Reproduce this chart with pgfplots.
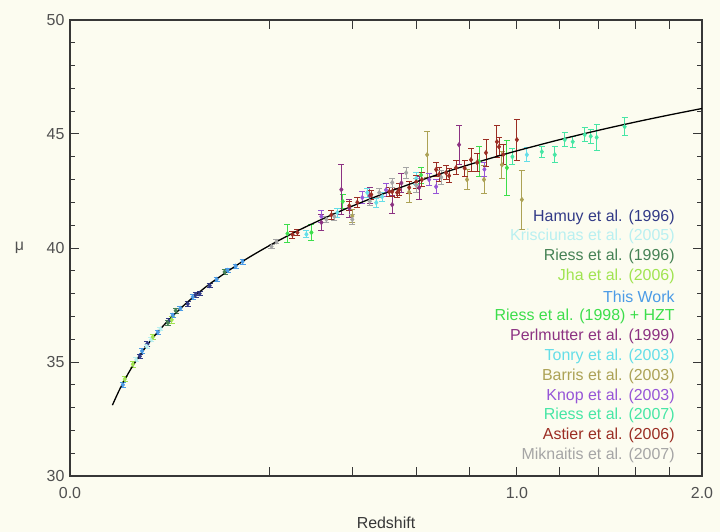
\documentclass[border=0pt]{standalone}
\usepackage{pgfplots}
\pgfplotsset{compat=1.18}
\usetikzlibrary{backgrounds}
\usepackage{fontspec}
\setmainfont{Liberation Sans}
\definecolor{bgc}{RGB}{252,252,240}
\definecolor{axc}{RGB}{55,55,55}
\definecolor{tickc}{RGB}{80,80,80}
\definecolor{hamuy}{RGB}{50,58,135}
\definecolor{kris}{RGB}{185,240,240}
\definecolor{riessA}{RGB}{70,130,85}
\definecolor{jha}{RGB}{160,228,80}
\definecolor{thiswork}{RGB}{75,155,230}
\definecolor{hzt}{RGB}{60,222,75}
\definecolor{perl}{RGB}{140,50,130}
\definecolor{tonry}{RGB}{100,222,232}
\definecolor{barris}{RGB}{172,162,85}
\definecolor{knop}{RGB}{150,85,215}
\definecolor{riessB}{RGB}{70,230,165}
\definecolor{astier}{RGB}{155,45,35}
\definecolor{mik}{RGB}{165,165,165}
\pgfplotsset{
  sn/.style={only marks, color=#1, mark=diamond*, mark size=2.4bp,
    mark options={fill=#1, draw=#1},
    error bars/y dir=both, error bars/y explicit,
    error bars/error bar style={color=#1, line width=0.9pt},
    error bars/error mark options={rotate=90, color=#1, mark size=3bp, line width=0.9pt}}
}
\tikzset{lg/.style={anchor=east, font=\fontsize{16}{19}\selectfont, text=#1, inner sep=0pt}}
\begin{document}
\begin{tikzpicture}
\begin{axis}[
  scale only axis, width=632bp, height=456bp,
  xmin=0, xmax=1.41421, ymin=30, ymax=50,
  xtick={0,0.44721,0.63246,0.77460,0.89443,1,1.09545,1.18322,1.26491,1.34164,1.41421},
  xticklabels={\mbox{0.0},,,,,\mbox{1.0},,,,,\mbox{2.0}},
  ytick={30,35,40,45,50},
  yticklabel={\mbox{\pgfmathprintnumber[assume math mode=true]{\tick}}},
  minor y tick num=4,
  tick align=inside,
  major tick length=9pt, minor tick length=5pt,
  axis line style={draw=axc, line width=1.2pt},
  tick style={color=axc, line width=1pt},
  tick label style={font=\fontsize{16}{19}\selectfont, text=tickc},
  xticklabel style={yshift=-8bp},
  yticklabel style={xshift=-2bp},
  xlabel={Redshift},
  xlabel style={font=\fontsize{16}{19}\selectfont, text=axc, yshift=-11bp},
  ylabel={μ},
  ylabel style={at={(rel axis cs:-0.08,0.5)}, rotate=-90, anchor=center, font=\fontsize{16}{19}\selectfont, text=tickc},
]
% Hamuy et al. (1996)
\addplot[sn=hamuy] table[x expr={sqrt(\thisrow{z})}, y=mu, y error=e] {
z mu e
0.0244 35.25 0.10
0.0300 35.80 0.10
0.0490 36.80 0.10
0.0694 37.55 0.10
0.0790 37.95 0.10
0.0842 38.00 0.10
0.0977 38.35 0.10
};
% Krisciunas et al. (2005)
\addplot[sn=kris] table[x expr={sqrt(\thisrow{z})}, y=mu, y error=e] {
z mu e
0.0220 35.10 0.08
0.0295 35.68 0.08
0.0330 35.98 0.08
0.0410 36.45 0.08
};
% Riess et al. (1996)
\addplot[sn=riessA] table[x expr={sqrt(\thisrow{z})}, y=mu, y error=e] {
z mu e
0.0479 36.72 0.12
0.0560 37.25 0.12
0.1197 38.95 0.12
};
% Jha et al. (2006)
\addplot[sn=jha] table[x expr={sqrt(\thisrow{z})}, y=mu, y error=e] {
z mu e
0.0150 34.25 0.12
0.0198 34.90 0.12
0.0343 36.10 0.12
0.0518 36.85 0.15
};
% This Work
\addplot[sn=thiswork] table[x expr={sqrt(\thisrow{z})}, y=mu, y error=e] {
z mu e
0.0140 34.00 0.10
0.0260 35.48 0.10
0.0386 36.30 0.10
0.0529 37.05 0.10
0.0610 37.35 0.10
0.0754 37.85 0.10
0.1077 38.62 0.10
0.1244 39.02 0.10
0.1373 39.20 0.10
0.1491 39.40 0.10
};
% Riess et al. (1998) + HZT
\addplot[sn=hzt] table[x expr={sqrt(\thisrow{z})}, y=mu, y error=e] {
z mu e
0.2368 40.63 0.40
0.2918 40.68 0.35
0.3725 42.04 0.30
0.6173 43.20 0.35
0.8376 43.79 0.65
0.9559 43.52 1.20
};
% Perlmutter et al. (1999)
\addplot[sn=perl] table[x expr={sqrt(\thisrow{z})}, y=mu, y error=e] {
z mu e
0.3164 41.12 0.35
0.3686 42.56 1.10
0.3906 41.75 0.40
0.4500 42.30 0.35
0.5198 41.90 0.40
0.5500 42.85 0.40
0.6104 42.65 0.50
0.7578 44.53 0.85
};
% Tonry et al. (2003)
\addplot[sn=tonry] table[x expr={sqrt(\thisrow{z})}, y=mu, y error=e] {
z mu e
0.2799 40.60 0.15
0.3579 41.55 0.20
0.4425 42.43 0.20
0.4696 41.99 0.20
0.4881 42.25 0.20
0.6000 43.05 0.25
1.0451 44.09 0.30
};
% Barris et al. (2003)
\addplot[sn=barris] table[x expr={sqrt(\thisrow{z})}, y=mu, y error=e] {
z mu e
0.3990 41.40 0.30
0.5760 42.45 0.45
0.6386 44.09 1.00
0.7892 43.00 0.45
0.8581 43.00 0.60
0.9342 43.65 0.60
1.0225 42.12 1.30
};
% Knop et al. (2003)
\addplot[sn=knop] table[x expr={sqrt(\thisrow{z})}, y=mu, y error=e] {
z mu e
0.3164 41.38 0.25
0.4277 42.21 0.25
0.5000 42.55 0.30
0.6457 43.00 0.25
0.6711 42.69 0.30
0.8600 43.45 0.30
};
% Riess et al. (2007)
\addplot[sn=riessB] table[x expr={sqrt(\thisrow{z})}, y=mu, y error=e] {
z mu e
0.9800 44.00 0.35
1.1147 44.22 0.25
1.1768 44.09 0.35
1.2258 44.75 0.30
1.2656 44.66 0.25
1.3266 44.97 0.30
1.3577 44.90 0.30
1.3890 44.85 0.55
1.5403 45.32 0.40
};
% Astier et al. (2006)
\addplot[sn=astier] table[x expr={sqrt(\thisrow{z})}, y=mu, y error=e] {
z mu e
0.2478 40.59 0.15
0.2590 40.68 0.15
0.3420 41.45 0.20
0.3906 41.85 0.20
0.4133 42.00 0.20
0.4544 42.34 0.20
0.5102 42.47 0.20
0.5198 42.47 0.20
0.5360 42.43 0.20
0.5426 42.56 0.25
0.5760 42.65 0.25
0.6000 42.90 0.30
0.6200 43.00 0.30
0.6711 43.44 0.30
0.6821 43.22 0.30
0.7082 43.30 0.30
0.7195 43.17 0.30
0.7462 43.52 0.30
0.7800 43.50 0.35
0.8052 43.87 0.50
0.8300 43.75 0.40
0.8664 44.18 0.60
0.9127 44.66 0.70
0.9213 44.44 0.40
0.9400 44.10 0.45
1.0000 44.75 0.90
};
% Miknaitis et al. (2007)
\addplot[sn=mik] table[x expr={sqrt(\thisrow{z})}, y=mu, y error=e] {
z mu e
0.2033 40.07 0.10
0.2135 40.28 0.10
0.3291 41.25 0.15
0.3499 41.38 0.15
0.3990 41.25 0.20
0.4500 42.05 0.20
0.4788 42.43 0.20
0.5198 42.87 0.20
0.5658 43.30 0.25
0.6000 42.75 0.30
0.6900 43.10 0.30
};
% model curve
\addplot[black, line width=1.3pt, smooth, no marks] table[x expr={sqrt(\thisrow{z})}, y=mu] {
z mu
0.009 33.106
0.012 33.736
0.015 34.225
0.02 34.858
0.03 35.755
0.04 36.395
0.05 36.896
0.07 37.657
0.1 38.476
0.15 39.427
0.2 40.117
0.25 40.663
0.3 41.116
0.35 41.505
0.4 41.845
0.45 42.148
0.5 42.422
0.6 42.900
0.7 43.308
0.8 43.663
0.9 43.979
1.0 44.261
1.2 44.751
1.4 45.165
1.6 45.523
1.8 45.837
2.0 46.118
};
% legend
\node[lg=hamuy]    at (rel axis cs:0.957,0.568) {Hamuy et al. (1996)};
\node[lg=kris]     at (rel axis cs:0.957,0.5244) {Krisciunas et al. (2005)};
\node[lg=riessA]   at (rel axis cs:0.957,0.4808) {Riess et al. (1996)};
\node[lg=jha]      at (rel axis cs:0.957,0.4372) {Jha et al. (2006)};
\node[lg=thiswork] at (rel axis cs:0.957,0.3936) {This Work};
\node[lg=hzt]      at (rel axis cs:0.957,0.3500) {Riess et al. (1998) + HZT};
\node[lg=perl]     at (rel axis cs:0.957,0.3064) {Perlmutter et al. (1999)};
\node[lg=tonry]    at (rel axis cs:0.957,0.2628) {Tonry et al. (2003)};
\node[lg=barris]   at (rel axis cs:0.957,0.2192) {Barris et al. (2003)};
\node[lg=knop]     at (rel axis cs:0.957,0.1756) {Knop et al. (2003)};
\node[lg=riessB]   at (rel axis cs:0.957,0.1320) {Riess et al. (2007)};
\node[lg=astier]   at (rel axis cs:0.957,0.0884) {Astier et al. (2006)};
\node[lg=mik]      at (rel axis cs:0.957,0.0448) {Miknaitis et al. (2007)};
\end{axis}
\begin{scope}[on background layer]
\fill[bgc] (-70bp,-56bp) rectangle (650bp,476bp);
\end{scope}
\pgfresetboundingbox
\path[use as bounding box] (-70bp,-56bp) rectangle (650bp,476bp);
\end{tikzpicture}
\end{document}
